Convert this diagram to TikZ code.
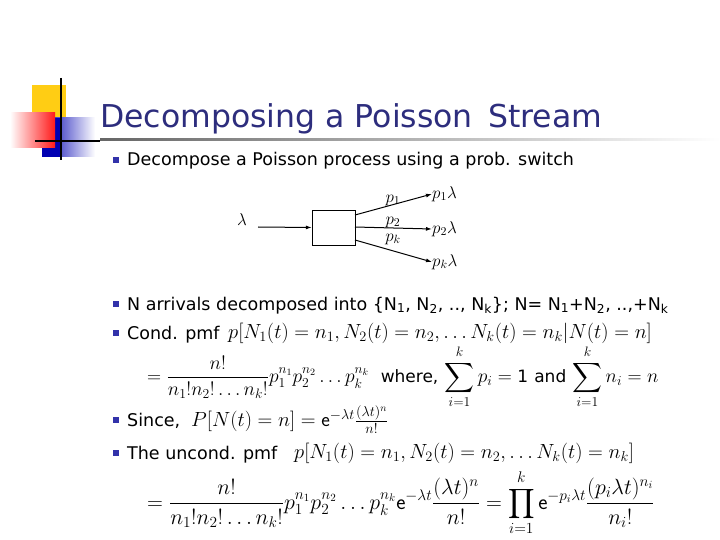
\RequirePackage{fix-cm}
\documentclass[tikz,border=0pt]{standalone}
\usepackage{amsmath}
\usepackage{fontspec}
\setmainfont{DejaVu Sans}
\usetikzlibrary{arrows.meta}
\definecolor{titleblue}{RGB}{45,45,125}
\definecolor{bul}{RGB}{50,50,170}
\definecolor{logoyel}{RGB}{255,205,20}
\tikzset{
  txt/.style={anchor=base west,inner sep=0pt,font=\fontsize{17.5}{20}\selectfont},
  mth/.style={anchor=west,inner sep=0pt,font=\fontsize{20.5}{24}\selectfont},
  sm/.style={inner sep=0pt,font=\fontsize{17}{19}\selectfont},
  bullet/.style={fill=bul,minimum size=6pt,inner sep=0pt},
  arr/.style={-{Latex[length=6pt,width=4pt]},line width=1pt}
}
\newcommand{\ee}{\mathrm{\textsf{e}}}
\begin{document}
\begin{tikzpicture}[x=1pt,y=-1pt]
\useasboundingbox (0,0) rectangle (720,540);
% logo
\fill[logoyel] (32,85) rectangle (66,119);
\shade[left color=blue!70!black,right color=white] (42,118) rectangle (95,157);
\fill[blue!70!black] (42,118) rectangle (62,157);
\shade[left color=white,right color=red!90] (10,113) rectangle (55,148);
\draw[line width=2pt] (61,78) -- (61,160);
\draw[line width=1.5pt] (35,141) -- (100,141);
\shade[left color=black!60,right color=white] (100,138.5) rectangle (720,140.5);
\node[anchor=base west,inner sep=0pt,text=titleblue,font=\fontsize{31.5}{36}\selectfont] (title) at (100,128) {Decomposing a Poisson\, Stream};
% bullets
\foreach \n/\y in {b1/160,b2/304,b3/333,b4/420,b5/453} \node[bullet] (\n) at (116,\y) {};
\node[txt] (t1) at (127,166) {Decompose a Poisson process using a prob. switch};
% switch
\node[draw,minimum width=43pt,minimum height=35pt,inner sep=0pt] (box) at (333.5,227.5) {};
\node[sm] (lam) at (242,220) {$\lambda$};
\coordinate (in) at (258,227);
\draw[arr] (in) -- (box.west);
\coordinate (o1) at (355,215);\coordinate (o2) at (355,227);\coordinate (o3) at (355,240);
\node[sm,anchor=west] (r1) at (432,194) {$p_1\lambda$};
\node[sm,anchor=west] (r2) at (432,229) {$p_2\lambda$};
\node[sm,anchor=west] (r3) at (432,262) {$p_k\lambda$};
\draw[arr] (o1) -- (r1.west);
\draw[arr] (o2) -- (r2.west);
\draw[arr] (o3) -- (r3.west);
\node[sm] (l1) at (393,200) {$p_1$};
\node[sm] (l2) at (393,222) {$p_2$};
\node[sm] (l3) at (393,239) {$p_k$};
% text
\node[txt] (t2) at (127,310) {N arrivals decomposed into \{N\textsubscript{1}, N\textsubscript{2}, .., N\textsubscript{k}\}; N= N\textsubscript{1}+N\textsubscript{2}, ..,+N\textsubscript{k}};
\node[txt] (t3) at (127,339) {Cond. pmf};
\node[mth] (f1) at (228,333) {$p[N_1(t)=n_1,N_2(t)=n_2,\ldots N_k(t)=n_k|N(t)=n]$};
\node[mth,font=\fontsize{19.5}{23}\selectfont] (f2) at (147,377) {$\displaystyle=\frac{n!}{n_1!n_2!\ldots n_k!}p_1^{n_1}p_2^{n_2}\ldots p_k^{n_k}$\; {\fontsize{17}{20}\selectfont where,} $\displaystyle\sum_{i=1}^{k}p_i=\text{\fontsize{17}{20}\selectfont 1}$ {\fontsize{17}{20}\selectfont and} $\displaystyle\sum_{i=1}^{k}n_i=n$};
\node[txt] (t4) at (127,426) {Since,};
\node[mth] (f3) at (191,420) {$P[N(t)=n]=\ee^{-\lambda t}\frac{(\lambda t)^n}{n!}$};
\node[txt] (t5) at (127,459) {The uncond. pmf};
\node[mth] (f4) at (294,453) {$p[N_1(t)=n_1,N_2(t)=n_2,\ldots N_k(t)=n_k]$};
\node[mth,font=\fontsize{22}{26}\selectfont] (f5) at (147,503) {$\displaystyle=\frac{n!}{n_1!n_2!\ldots n_k!}p_1^{n_1}p_2^{n_2}\ldots p_k^{n_k}\ee^{-\lambda t}\frac{(\lambda t)^n}{n!}=\prod_{i=1}^{k}\ee^{-p_i\lambda t}\frac{(p_i\lambda t)^{n_i}}{n_i!}$};
\end{tikzpicture}
\end{document}
